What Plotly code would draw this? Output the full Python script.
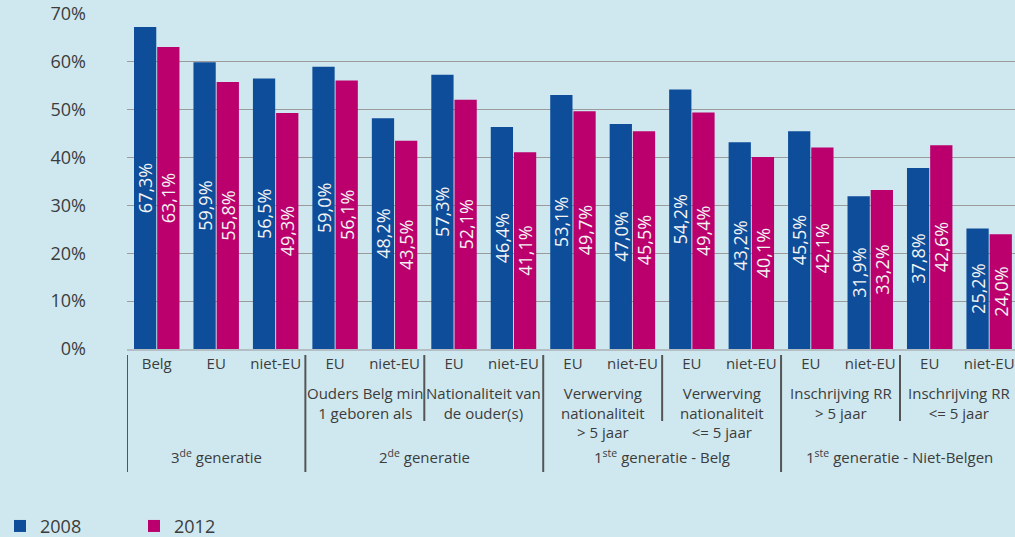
import plotly.graph_objects as go

# ---- data ----
cat_ids = ["3de|Belg", "3de|EU", "3de|niet-EU",
           "ouders|EU", "ouders|niet-EU",
           "natouder|EU", "natouder|niet-EU",
           "verw5p|EU", "verw5p|niet-EU",
           "verw5m|EU", "verw5m|niet-EU",
           "inschr5p|EU", "inschr5p|niet-EU",
           "inschr5m|EU", "inschr5m|niet-EU"]
sub_labels = ["Belg", "EU", "niet-EU", "EU", "niet-EU", "EU", "niet-EU", "EU", "niet-EU",
              "EU", "niet-EU", "EU", "niet-EU", "EU", "niet-EU"]
values_2008 = [67.3, 59.9, 56.5, 59.0, 48.2, 57.3, 46.4, 53.1, 47.0, 54.2, 43.2, 45.5, 31.9, 37.8, 25.2]
values_2012 = [63.1, 55.8, 49.3, 56.1, 43.5, 52.1, 41.1, 49.7, 45.5, 49.4, 40.1, 42.1, 33.2, 42.6, 24.0]

# middle level groups: (label, first index, last index)
mid_groups = [
    ("Ouders Belg min<br>1 geboren als", 3, 4),
    ("Nationaliteit van<br>de ouder(s)", 5, 6),
    ("Verwerving<br>nationaliteit<br>> 5 jaar", 7, 8),
    ("Verwerving<br>nationaliteit<br><= 5 jaar", 9, 10),
    ("Inschrijving RR<br>> 5 jaar", 11, 12),
    ("Inschrijving RR<br><= 5 jaar", 13, 14),
]
top_groups = [
    ("3<sup>de</sup> generatie", 0, 2),
    ("2<sup>de</sup> generatie", 3, 6),
    ("1<sup>ste</sup> generatie - Belg", 7, 10),
    ("1<sup>ste</sup> generatie - Niet-Belgen", 11, 14),
]

BLUE = "#0e4d9a"
MAGENTA = "#bb006e"
BG = "#cfe8ef"
TXT = "#3c3c3c"
FONT = "Open Sans"

W, H = 1015, 537
ML, MT = 127, 14
PLOT_BOTTOM = 349
MB = H - PLOT_BOTTOM
plot_h = PLOT_BOTTOM - MT


def py(px):
    """pixel y -> paper y"""
    return (PLOT_BOTTOM - px) / plot_h


fig = go.Figure()
for name, vals, col in [("2008", values_2008, BLUE), ("2012", values_2012, MAGENTA)]:
    fig.add_trace(go.Bar(
        x=cat_ids, y=vals, name=name, marker_color=col, marker_line_width=0,
        texttemplate="%{y:.1f}%", textposition="inside", insidetextanchor="middle",
        textangle=-90, constraintext="none",
        textfont=dict(color="#f4f4f4", size=18, family=FONT),
    ))

shapes = []
annotations = []
# separator lines (category boundaries)
full_bounds = [g[1] - 0.5 for g in top_groups]
short_bounds = [5 - 0.5, 9 - 0.5, 13 - 0.5]
for b in full_bounds:
    shapes.append(dict(type="line", xref="x", yref="paper", x0=b, x1=b,
                       y0=py(355), y1=py(472), line=dict(color="#555555", width=2)))
for b in short_bounds:
    shapes.append(dict(type="line", xref="x", yref="paper", x0=b, x1=b,
                       y0=py(355), y1=py(421), line=dict(color="#555555", width=2)))

for label, a, b in mid_groups:
    annotations.append(dict(x=(a + b) / 2, xref="x", y=py(381), yref="paper",
                            yanchor="top", xanchor="center", showarrow=False,
                            text=label, font=dict(size=15, color=TXT, family=FONT)))
for label, a, b in top_groups:
    annotations.append(dict(x=(a + b) / 2, xref="x", y=py(456), yref="paper",
                            yanchor="middle", xanchor="center", showarrow=False,
                            text=label, font=dict(size=15, color=TXT, family=FONT)))

fig.update_layout(
    width=W, height=H,
    margin=dict(l=ML, r=0, t=MT, b=MB, pad=0),
    paper_bgcolor=BG, plot_bgcolor=BG,
    separators=",.",
    barmode="group", bargap=0.22, bargroupgap=0.04,
    font=dict(family=FONT, color=TXT),
    showlegend=True,
    legend=dict(orientation="h", xref="container", yref="container",
                x=0.0, y=0.02, xanchor="left", yanchor="middle",
                font=dict(size=18, color=TXT, family=FONT),
                itemwidth=30, entrywidth=89, entrywidthmode="pixels",
                bgcolor="rgba(0,0,0,0)"),
    shapes=shapes, annotations=annotations,
)
fig.update_xaxes(
    type="category", tickmode="array", tickvals=cat_ids, ticktext=sub_labels,
    range=[-0.5, -0.5 + 888 / 59.46],
    showline=True, linecolor="#b3bfc4", linewidth=2, showgrid=False,
    ticks="", tickfont=dict(size=15, color=TXT, family=FONT),
)
fig.update_yaxes(
    range=[0, 70], dtick=10, ticksuffix="%", showgrid=True, gridcolor="#9b9b9b",
    gridwidth=1, zeroline=False, showline=False, ticks="",
    ticklabelstandoff=40, tickfont=dict(size=18, color=TXT, family=FONT),
)

fig.write_html("out.html", config={"displayModeBar": False},
               post_script="document.body.style.margin='0px';document.body.style.padding='0px';")
